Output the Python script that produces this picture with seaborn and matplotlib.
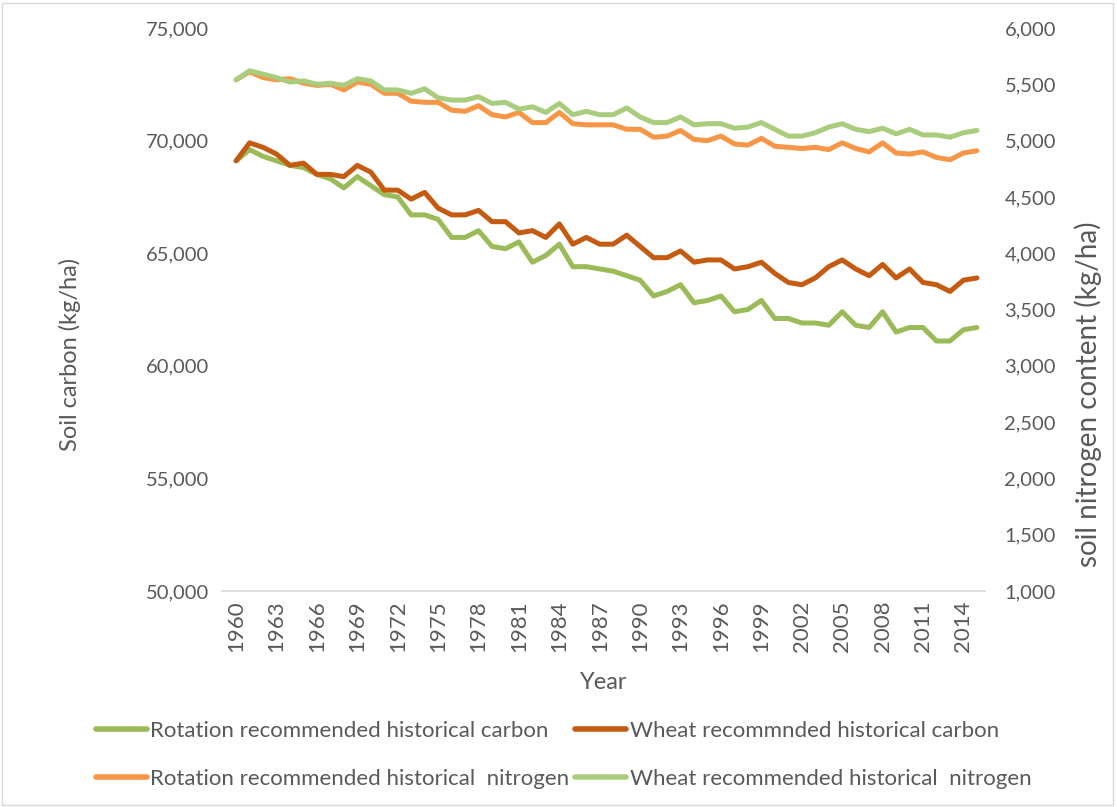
import matplotlib
matplotlib.use('Agg')
import matplotlib.pyplot as plt
from matplotlib.patches import Rectangle
from matplotlib.ticker import FuncFormatter
import numpy as np
import seaborn as sns

# Data
years = list(range(1960, 2016))

rotation_carbon = [69100, 69600, 69300, 69100, 68900, 68800, 68500, 68300, 67900, 68400,
                   68000, 67600, 67500, 66700, 66700, 66500, 65700, 65700, 66000, 65300,
                   65200, 65500, 64600, 64900, 65400, 64400, 64400, 64300, 64200, 64000,
                   63800, 63100, 63300, 63600, 62800, 62900, 63100, 62400, 62500, 62900,
                   62100, 62100, 61900, 61900, 61800, 62400, 61800, 61700, 62400, 61500,
                   61700, 61700, 61100, 61100, 61600, 61700]

wheat_carbon = [69100, 69900, 69700, 69400, 68900, 69000, 68500, 68500, 68400, 68900,
                68600, 67800, 67800, 67400, 67700, 67000, 66700, 66700, 66900, 66400,
                66400, 65900, 66000, 65700, 66300, 65400, 65700, 65400, 65400, 65800,
                65300, 64800, 64800, 65100, 64600, 64700, 64700, 64300, 64400, 64600,
                64100, 63700, 63600, 63900, 64400, 64700, 64300, 64000, 64500, 63900,
                64300, 63700, 63600, 63300, 63800, 63900]

rotation_nitrogen = [5540, 5610, 5560, 5540, 5550, 5510, 5490, 5500, 5450, 5520,
                     5500, 5420, 5420, 5350, 5340, 5340, 5270, 5260, 5310, 5230,
                     5210, 5250, 5160, 5160, 5250, 5150, 5140, 5140, 5140, 5100,
                     5100, 5030, 5040, 5090, 5010, 5000, 5040, 4970, 4960, 5020,
                     4950, 4940, 4930, 4940, 4920, 4980, 4930, 4900, 4980, 4890,
                     4880, 4900, 4850, 4830, 4890, 4910]

wheat_nitrogen = [5540, 5620, 5590, 5560, 5520, 5530, 5500, 5510, 5490, 5550,
                  5530, 5450, 5450, 5420, 5460, 5380, 5360, 5360, 5390, 5330,
                  5340, 5280, 5300, 5250, 5330, 5230, 5260, 5230, 5230, 5290,
                  5210, 5160, 5160, 5210, 5140, 5150, 5150, 5110, 5120, 5160,
                  5100, 5040, 5040, 5070, 5120, 5150, 5100, 5080, 5110, 5060,
                  5100, 5050, 5050, 5030, 5070, 5090]

labels = ['Rotation recommended historical carbon',
          'Wheat recommnded historical carbon',
          'Rotation recommended historical  nitrogen',
          'Wheat recommended historical  nitrogen']
colors = ['#9BBB59', '#C55A11', '#F79646', '#A9CD7D']

sns.set_style('white')
plt.rcParams['font.family'] = ['Lato', 'DejaVu Sans']
TXT = '#595959'

fig = plt.figure(figsize=(11.17, 8.07), dpi=100)
ax = fig.add_axes([0.1987, 0.2677, 0.6831, 0.6976])
ax2 = ax.twinx()

lw = 3.6
sns.lineplot(x=years, y=rotation_carbon, ax=ax, color=colors[0], lw=lw, label=labels[0],
             solid_capstyle='round', solid_joinstyle='round', legend=False)
sns.lineplot(x=years, y=wheat_carbon, ax=ax, color=colors[1], lw=lw, label=labels[1],
             solid_capstyle='round', solid_joinstyle='round', legend=False)
sns.lineplot(x=years, y=rotation_nitrogen, ax=ax2, color=colors[2], lw=lw, label=labels[2],
             solid_capstyle='round', solid_joinstyle='round', legend=False)
sns.lineplot(x=years, y=wheat_nitrogen, ax=ax2, color=colors[3], lw=lw, label=labels[3],
             solid_capstyle='round', solid_joinstyle='round', legend=False)

ax.set_xlim(1958.95, 2015.6)
ax.set_ylim(50000, 75000)
ax2.set_ylim(1000, 6000)
ax.set_yticks(np.arange(50000, 75001, 5000))
ax2.set_yticks(np.arange(1000, 6001, 500))
ax.set_xticks(years[::3])

fmt = FuncFormatter(lambda v, p: f'{int(v):,}')
ax.yaxis.set_major_formatter(fmt)
ax2.yaxis.set_major_formatter(fmt)

for a in (ax, ax2):
    for s in a.spines.values():
        s.set_visible(False)
ax.spines['bottom'].set_visible(True)
ax.spines['bottom'].set_color('#D9D9D9')
ax.spines['bottom'].set_linewidth(1.2)

ax.tick_params(axis='y', length=0, pad=9, labelsize=14.5, labelcolor=TXT)
ax2.tick_params(axis='y', length=0, pad=14, labelsize=14.5, labelcolor=TXT)
ax.tick_params(axis='x', length=0, pad=7, labelsize=16, labelcolor=TXT, labelrotation=90)

ax.set_xlabel('Year', fontsize=17, color=TXT, labelpad=14)
ax.set_ylabel('Soil carbon (kg/ha)', fontsize=17, color=TXT, labelpad=47)
ax2.set_ylabel('soil nitrogen content (kg/ha)', fontsize=20, color=TXT, labelpad=13, rotation=90)
# axis titles sit a bit below the middle in the reference
ax.yaxis.label.set_y(0.42)
ax2.yaxis.label.set_y(0.35)

h1, l1 = ax.get_legend_handles_labels()
h2, l2 = ax2.get_legend_handles_labels()
handles = [h1[0], h2[0], h1[1], h2[1]]
leg_labels = [l1[0], l2[0], l1[1], l2[1]]
leg = fig.legend(handles, leg_labels, ncol=2, loc='upper left', bbox_to_anchor=(0.076, 0.12),
                 frameon=False, fontsize=16, labelcolor=TXT, handlelength=2.3,
                 handletextpad=0.15, columnspacing=0.25, labelspacing=1.25, borderpad=0)
for ln in leg.get_lines():
    ln.set_linewidth(4)
    ln.set_solid_capstyle('round')

fig.patches.append(Rectangle((0.002, 0.002), 0.994, 0.994, transform=fig.transFigure,
                             fill=False, edgecolor='#D9D9D9', lw=1))

fig.savefig('out.png', dpi=100)
